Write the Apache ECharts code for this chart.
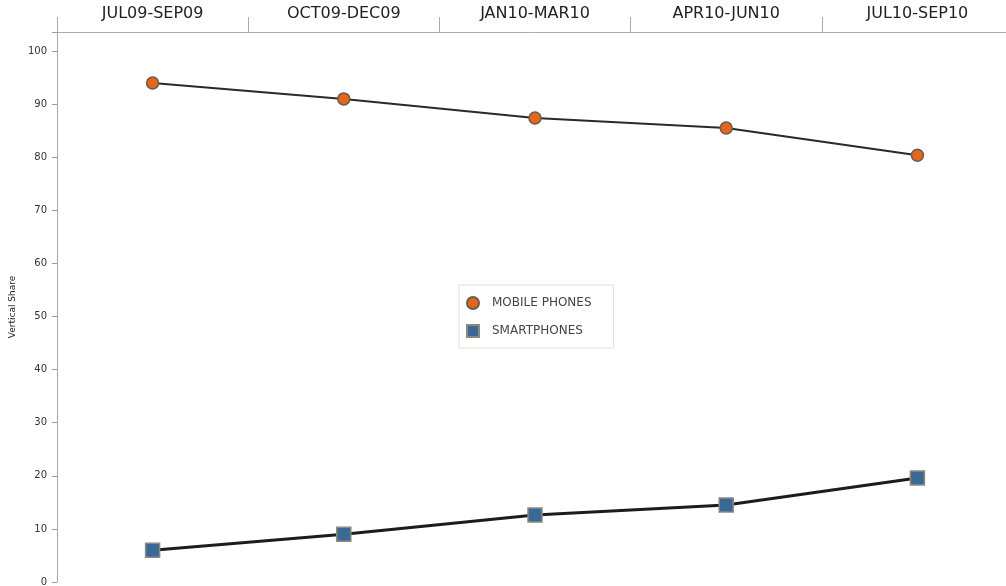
<!DOCTYPE html>
<html>
<head>
<meta charset="utf-8">
<script src="https://cdn.jsdelivr.net/npm/echarts@6/dist/echarts.min.js"></script>
<style>
  html, body { margin: 0; padding: 0; background: #fff; }
  #chart { width: 1006px; height: 586px; }
</style>
</head>
<body>
<div id="chart"></div>
<script>
var quarters = ['JUL09-SEP09', 'OCT09-DEC09', 'JAN10-MAR10', 'APR10-JUN10', 'JUL10-SEP10'];
var mobilePhones = [94, 91, 87.4, 85.5, 80.4];
var smartphones = [6, 9, 12.6, 14.5, 19.6];

var chart = echarts.init(document.getElementById('chart'));

var option = {
    animation: false,
    grid: {
        left: 57,
        top: 32,
        width: 956,
        bottom: 4,
        outerBoundsMode: 'none',
        containLabel: false
    },
    legend: {
        left: 459,
        top: 285,
        orient: 'vertical',
        padding: [11, 22, 10, 7],
        itemGap: 14,
        itemWidth: 12,
        itemHeight: 12,
        borderColor: '#e6e2cc',
        borderWidth: 1,
        backgroundColor: '#fff',
        textStyle: {
            fontFamily: 'DejaVu Sans',
            fontSize: 12,
            color: '#444',
            padding: [0, 0, 0, 8]
        },
        data: [
            {name: 'MOBILE PHONES', icon: 'circle'},
            {name: 'SMARTPHONES', icon: 'rect'}
        ]
    },
    xAxis: {
        type: 'category',
        position: 'top',
        data: quarters,
        boundaryGap: true,
        axisLine: {onZero: false, lineStyle: {color: '#b3a6b3', width: 1}},
        axisTick: {show: true, length: 15, lineStyle: {color: '#aaa'}},
        axisLabel: {
            margin: 10,
            fontFamily: 'DejaVu Sans',
            fontSize: 16,
            color: '#222'
        },
        splitLine: {show: false}
    },
    yAxis: {
        type: 'value',
        min: 0,
        max: 103.6,
        interval: 10,
        name: 'Vertical Share',
        nameLocation: 'middle',
        nameGap: 37,
        nameRotate: 90,
        nameTextStyle: {
            fontFamily: 'DejaVu Sans',
            fontSize: 9,
            color: '#222'
        },
        axisLine: {show: true, lineStyle: {color: '#b3a6b3', width: 1}},
        axisTick: {show: true, length: 5, lineStyle: {color: '#999'}},
        axisLabel: {
            margin: 10,
            fontFamily: 'DejaVu Sans',
            fontSize: 10,
            color: '#333',
            formatter: function (v) {
                return v % 10 === 0 ? String(v) : '';
            }
        },
        splitLine: {show: false}
    },
    series: [
        {
            name: 'MOBILE PHONES',
            type: 'line',
            data: mobilePhones,
            symbol: 'circle',
            symbolSize: 12,
            itemStyle: {color: '#e2661c', borderColor: '#6b5a50', borderWidth: 1.5},
            lineStyle: {color: '#2a2a24', width: 2}
        },
        {
            name: 'SMARTPHONES',
            type: 'line',
            data: smartphones,
            symbol: 'rect',
            symbolSize: 14,
            itemStyle: {color: '#3c6896', borderColor: '#8a8a80', borderWidth: 1.5},
            lineStyle: {color: '#1c1c18', width: 3}
        }
    ]
};

chart.setOption(option);
</script>
</body>
</html>
